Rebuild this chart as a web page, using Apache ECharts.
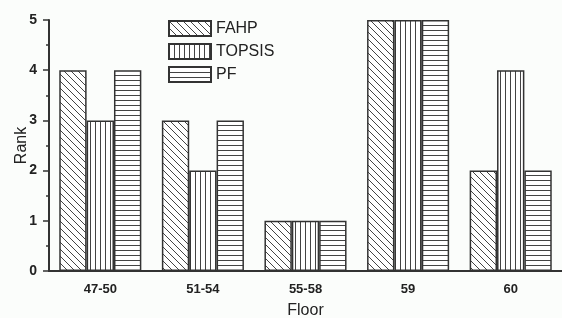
<!DOCTYPE html>
<html>
<head>
<meta charset="utf-8">
<script src="https://cdn.jsdelivr.net/npm/echarts@6/dist/echarts.min.js"></script>
<style>
  html, body { margin: 0; padding: 0; background: #fbfdfb; }
  #main { width: 562px; height: 318px; }
</style>
</head>
<body>
<div id="main"></div>
<script>
var floors = ['47-50', '51-54', '55-58', '59', '60'];
var fahp = [4, 3, 1, 5, 2];
var topsis = [3, 2, 1, 5, 4];
var pf = [4, 3, 1, 5, 2];
var rankTicks = [0, 1, 2, 3, 4, 5];

// little canvas tiles for the hatching
function hatch(kind) {
  var s = kind === 'diag' ? 7 : 5;
  var c = document.createElement('canvas');
  c.width = s; c.height = s;
  var g = c.getContext('2d');
  g.fillStyle = '#ffffff';
  g.fillRect(0, 0, s, s);
  g.strokeStyle = '#444';
  g.lineWidth = 1;
  g.beginPath();
  if (kind === 'vert') {
    g.moveTo(0.5, 0); g.lineTo(0.5, s);
  } else if (kind === 'horiz') {
    g.moveTo(0, 0.5); g.lineTo(s, 0.5);
  } else {
    g.moveTo(-1, -1); g.lineTo(s + 1, s + 1);
    g.moveTo(-1, s - 1); g.lineTo(1, s + 1);
    g.moveTo(s - 1, -1); g.lineTo(s + 1, 1);
  }
  g.stroke();
  return { image: c, repeat: 'repeat' };
}

var txt = { fontFamily: 'Liberation Sans, Arial', color: '#222' };

var myChart = echarts.init(document.getElementById('main'));
myChart.setOption({
  backgroundColor: '#fbfdfb',
  animation: false,
  grid: { left: 49, right: 0, top: 20, bottom: 47, outerBoundsMode: 'none', containLabel: false },
  legend: {
    left: 163, top: 15, orient: 'vertical', icon: 'rect',
    itemWidth: 42, itemHeight: 15, itemGap: 6,
    textStyle: Object.assign({ fontSize: 16 }, txt),
    data: ['FAHP', 'TOPSIS', 'PF']
  },
  xAxis: [{
    type: 'category', data: floors,
    name: 'Floor', nameLocation: 'middle', nameGap: 32, nameMoveOverlap: false,
    nameTextStyle: Object.assign({ fontSize: 16 }, txt),
    axisLine: { lineStyle: { color: '#333', width: 2 } },
    axisTick: { alignWithLabel: true, length: 6, lineStyle: { color: '#333', width: 1.5 } },
    axisLabel: Object.assign({ fontSize: 13, fontWeight: 'bold', margin: 12 }, txt)
  }, {
    type: 'category', data: floors, position: 'bottom',
    axisLine: { show: false },
    axisTick: { length: 4, lineStyle: { color: '#333', width: 1.5 } },
    axisLabel: { show: false }
  }],
  yAxis: {
    type: 'value', min: rankTicks[0], max: rankTicks[rankTicks.length - 1], interval: 1,
    name: 'Rank', nameLocation: 'middle', nameGap: 19, nameMoveOverlap: false,
    nameTextStyle: Object.assign({ fontSize: 16 }, txt),
    axisLine: { show: true, lineStyle: { color: '#333', width: 2 } },
    axisTick: { show: true, length: 6, lineStyle: { color: '#333', width: 1.5 } },
    minorTick: { show: true, splitNumber: 2, length: 3, lineStyle: { color: '#333', width: 1.5 } },
    splitLine: { show: false },
    axisLabel: Object.assign({ fontSize: 14, fontWeight: 'bold', margin: 12 }, txt)
  },
  series: [
    { name: 'FAHP', type: 'bar', data: fahp, barGap: '0%', barCategoryGap: '20%',
      itemStyle: { color: hatch('diag'), borderColor: '#333', borderWidth: 1.5 } },
    { name: 'TOPSIS', type: 'bar', data: topsis,
      itemStyle: { color: hatch('vert'), borderColor: '#333', borderWidth: 1.5 } },
    { name: 'PF', type: 'bar', data: pf,
      itemStyle: { color: hatch('horiz'), borderColor: '#333', borderWidth: 1.5 } }
  ]
});
</script>
</body>
</html>
